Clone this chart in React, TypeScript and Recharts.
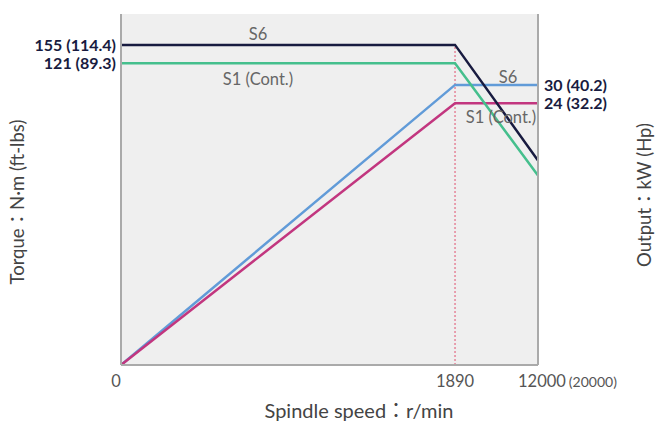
import { LineChart, Line, XAxis, YAxis, CartesianGrid, ReferenceLine, LabelList } from 'recharts'

// spindle speed, r/min
const speeds = [0, 1890, 12000]
const speedNotes = ['', '', '(20000)']

// torque, N·m
const torqueS6 = [155, 155, 82]
const torqueS1 = [121, 121, 76]
// output, kW
const powerS6 = [0, 30, 30]
const powerS1 = [0, 24, 24]

const torqueTicks = [121, 155]
const torqueTickFtLbs = ['89.3', '114.4']
const powerTicks = [24, 30]
const powerTickHp = ['32.2', '40.2']

const data = speeds.map((s, i) => ({
  speed: s,
  tS6: torqueS6[i],
  tS1: torqueS1[i],
  pS6: powerS6[i],
  pS1: powerS1[i],
}))

const FONT = 'Lato, "Noto Sans", "Noto Sans CJK JP", sans-serif'
const NAVY = '#181b40'

// the drawing is schematic: axes are piecewise linear between their marked values
function brokenScale(stops: number[], fracs: number[]) {
  let rng = [0, 1]
  let dom = [stops[0], stops[stops.length - 1]]
  const s: any = (v: number) => {
    let i = 0
    while (i < stops.length - 2 && v > stops[i + 1]) i++
    const t = fracs[i] + ((v - stops[i]) / (stops[i + 1] - stops[i])) * (fracs[i + 1] - fracs[i])
    return rng[0] + t * (rng[1] - rng[0])
  }
  s.domain = (d?: number[]) => (d === undefined ? dom : ((dom = [...d]), s))
  s.range = (r?: number[]) => (r === undefined ? rng : ((rng = [...r]), s))
  s.copy = () => brokenScale(stops, fracs).domain(dom).range(rng)
  s.ticks = () => stops
  s.nice = () => s
  s.clamp = () => s
  s.tickFormat = () => (v: number) => String(v)
  return s
}

const speedScale = brokenScale([0, 1890, 12000], [0, 0.801, 1])
const torqueScale = brokenScale([0, 121, 155, 212], [0, 0.86, 0.912, 1])
const powerScale = brokenScale([0, 24, 30, 53], [0, 0.746, 0.798, 1])

const seriesLabel = (text: string, at: number, dx: number, dy: number) => (p: any) =>
  p.index === at ? (
    <text key={text + at} x={p.x + dx} y={p.y + dy} textAnchor="middle" fill="#666" fontSize={16.5} fontFamily={FONT}>
      {text}
    </text>
  ) : null

const SpeedTick = ({ x, y, payload }: any) => {
  const i = speeds.indexOf(payload.value)
  const note = speedNotes[i]
  return (
    <text x={note ? x - 20 : i === 0 ? x - 5 : x} y={y + 22} textAnchor={note ? 'start' : 'middle'} fill="#555" fontSize={16.5} fontFamily={FONT}>
      {payload.value}
      {note && <tspan fontSize={14} dx={3}>{note}</tspan>}
    </text>
  )
}

const TorqueTick = ({ x, y, payload }: any) => (
  <text x={x} y={y} dy={6} textAnchor="end" fill={NAVY} fontSize={16} fontWeight={700} fontFamily={FONT}>
    {payload.value} ({torqueTickFtLbs[torqueTicks.indexOf(payload.value)]})
  </text>
)

const PowerTick = ({ x, y, payload }: any) => (
  <text x={x} y={y} dy={6} textAnchor="start" fill={NAVY} fontSize={16} fontWeight={700} fontFamily={FONT}>
    {payload.value} ({powerTickHp[powerTicks.indexOf(payload.value)]})
  </text>
)

export default function App() {
  return (
    <div style={{ position: 'absolute', left: 0, top: 0, background: '#fff' }}>
      <LineChart width={668} height={424} data={data} margin={{ top: 14, right: 0, bottom: 0, left: 0 }}>
        <CartesianGrid fill="#efefef" horizontal={false} vertical={false} />
        <XAxis
          dataKey="speed"
          type="number"
          domain={[0, 12000]}
          scale={speedScale}
          ticks={speeds}
          interval={0}
          height={59}
          tickSize={0}
          tickMargin={0}
          tick={<SpeedTick />}
          axisLine={{ stroke: '#aaa', strokeWidth: 2 }}
          label={{
            content: () => (
              <text x={359} y={418} textAnchor="middle" fill="#444" fontSize={20} fontFamily={FONT}>
                Spindle speed：r/min
              </text>
            ),
          }}
        />
        <YAxis
          yAxisId="left"
          type="number"
          domain={[0, 212]}
          scale={torqueScale}
          ticks={torqueTicks}
          interval={0}
          width={121}
          tickSize={0}
          tickMargin={5}
          tick={<TorqueTick />}
          axisLine={{ stroke: '#aaa', strokeWidth: 2 }}
          label={{
            content: () => (
              <text x={24} y={202} transform="rotate(-90 24 202)" textAnchor="middle" fill="#444" fontSize={18.5} fontFamily={FONT}>
                Torque：N·m (ft-lbs)
              </text>
            ),
          }}
        />
        <YAxis
          yAxisId="right"
          orientation="right"
          type="number"
          domain={[0, 53]}
          scale={powerScale}
          ticks={powerTicks}
          interval={0}
          width={130}
          tickSize={0}
          tickMargin={6}
          tick={<PowerTick />}
          axisLine={{ stroke: '#aaa', strokeWidth: 2 }}
          label={{
            content: () => (
              <text x={651} y={195} transform="rotate(-90 651 195)" textAnchor="middle" fill="#444" fontSize={18.5} fontFamily={FONT}>
                Output：kW (Hp)
              </text>
            ),
          }}
        />
        <ReferenceLine
          yAxisId="left"
          segment={[{ x: speeds[1], y: 0 }, { x: speeds[1], y: torqueS6[1] }]}
          stroke="#e0506e"
          strokeDasharray="2 2"
          ifOverflow="visible"
        />
        <Line yAxisId="right" dataKey="pS6" stroke="#619bd8" strokeWidth={2.5} dot={false} isAnimationActive={false}>
          <LabelList content={seriesLabel('S6', 1, 53, -2)} />
        </Line>
        <Line yAxisId="right" dataKey="pS1" stroke="#c2367f" strokeWidth={2.5} dot={false} isAnimationActive={false}>
          <LabelList content={seriesLabel('S1 (Cont.)', 1, 46, 20)} />
        </Line>
        <Line yAxisId="left" dataKey="tS1" stroke="#45bf8d" strokeWidth={2.5} dot={false} isAnimationActive={false}>
          <LabelList content={seriesLabel('S1 (Cont.)', 0, 137, 22)} />
        </Line>
        <Line yAxisId="left" dataKey="tS6" stroke={NAVY} strokeWidth={2.5} dot={false} isAnimationActive={false}>
          <LabelList content={seriesLabel('S6', 0, 137, -5)} />
        </Line>
      </LineChart>
    </div>
  )
}
